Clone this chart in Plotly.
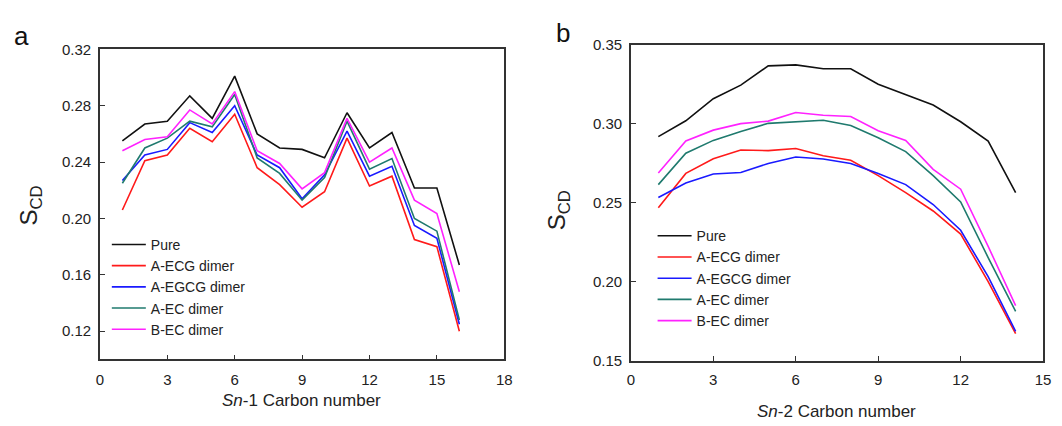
import plotly.graph_objects as go

# ---- data ----
series_names = ["Pure", "A-ECG dimer", "A-EGCG dimer", "A-EC dimer", "B-EC dimer"]
series_colors = ["#111111", "#ff1a1a", "#1a1aff", "#1f7a6e", "#ff22ff"]

sn1_carbon = list(range(1, 17))
sn1_pure = [0.255, 0.267, 0.269, 0.287, 0.271, 0.301, 0.260, 0.250, 0.249, 0.243, 0.275, 0.250, 0.261, 0.2216, 0.2216, 0.167]
sn1_aecg = [0.206, 0.241, 0.245, 0.264, 0.2545, 0.274, 0.236, 0.224, 0.208, 0.219, 0.257, 0.223, 0.230, 0.185, 0.180, 0.120]
sn1_aegcg = [0.227, 0.245, 0.249, 0.268, 0.261, 0.280, 0.245, 0.236, 0.214, 0.231, 0.262, 0.230, 0.237, 0.195, 0.186, 0.125]
sn1_aec = [0.225, 0.250, 0.257, 0.269, 0.265, 0.288, 0.243, 0.232, 0.213, 0.229, 0.269, 0.235, 0.2425, 0.200, 0.191, 0.128]
sn1_bec = [0.248, 0.256, 0.258, 0.277, 0.267, 0.290, 0.248, 0.239, 0.221, 0.2325, 0.271, 0.240, 0.250, 0.213, 0.2035, 0.148]

sn2_carbon = list(range(1, 15))
sn2_pure = [0.292, 0.302, 0.316, 0.3246, 0.3368, 0.3374, 0.335, 0.335, 0.3252, 0.3185, 0.312, 0.3014, 0.2892, 0.2565]
sn2_aecg = [0.247, 0.2687, 0.278, 0.2835, 0.2831, 0.2845, 0.2799, 0.277, 0.2673, 0.2565, 0.2449, 0.2303, 0.2002, 0.1672]
sn2_aegcg = [0.2534, 0.2626, 0.2683, 0.2693, 0.275, 0.2791, 0.2778, 0.275, 0.2687, 0.2616, 0.249, 0.2327, 0.2033, 0.1687]
sn2_aec = [0.2616, 0.2815, 0.2896, 0.2953, 0.3004, 0.3014, 0.3024, 0.299, 0.2913, 0.2825, 0.2673, 0.2506, 0.2154, 0.1813]
sn2_bec = [0.269, 0.2892, 0.2961, 0.3002, 0.3018, 0.3073, 0.3055, 0.3047, 0.2957, 0.2896, 0.2713, 0.2587, 0.2225, 0.185]

sn1_series = [sn1_pure, sn1_aecg, sn1_aegcg, sn1_aec, sn1_bec]
sn2_series = [sn2_pure, sn2_aecg, sn2_aegcg, sn2_aec, sn2_bec]

W, H = 1062, 426
FONT = "Liberation Sans, Arial, sans-serif"

fig = go.Figure()
for name, col, ys in zip(series_names, series_colors, sn1_series):
    fig.add_trace(go.Scatter(x=sn1_carbon, y=ys, mode="lines", name=name,
                             line=dict(color=col, width=1.6),
                             xaxis="x", yaxis="y", legend="legend"))
for name, col, ys in zip(series_names, series_colors, sn2_series):
    fig.add_trace(go.Scatter(x=sn2_carbon, y=ys, mode="lines", name=name,
                             line=dict(color=col, width=1.6),
                             xaxis="x2", yaxis="y2", legend="legend2"))

axis_common = dict(showline=True, linecolor="#333333", linewidth=1.5, mirror=True,
                   ticks="inside", ticklen=5, tickwidth=1.3, tickcolor="#333333",
                   showgrid=False, zeroline=False,
                   tickfont=dict(family=FONT, size=15, color="#222222"))

fig.update_layout(
    width=W, height=H,
    margin=dict(l=0, r=0, t=0, b=0),
    paper_bgcolor="white", plot_bgcolor="white",
    font=dict(family=FONT, color="#222222"),
    xaxis=dict(domain=[97 / W, 506 / W], range=[0, 18], dtick=3, tick0=0,
               anchor="y", ticklabelstandoff=6, **axis_common),
    yaxis=dict(domain=[1 - 365 / H, 1 - 42 / H], range=[0.10, 0.32], dtick=0.04, tick0=0.12,
               tickformat=".2f", anchor="x", ticklabelstandoff=4, **axis_common),
    xaxis2=dict(domain=[634 / W, 1051 / W], range=[0, 15], dtick=3, tick0=0,
                anchor="y2", ticklabelstandoff=4, **axis_common),
    yaxis2=dict(domain=[1 - 366.5 / H, 1 - 37.5 / H], range=[0.15, 0.35], dtick=0.05, tick0=0.15,
                tickformat=".2f", anchor="x2", ticklabelstandoff=4, **axis_common),
    legend=dict(x=104 / W, y=1 - 229 / H, xanchor="left", yanchor="top",
                bgcolor="rgba(0,0,0,0)", borderwidth=0, itemwidth=34,
                font=dict(family=FONT, size=14, color="#222222"), tracegroupgap=0),
    legend2=dict(x=656 / W, y=1 - 220 / H, xanchor="left", yanchor="top",
                 bgcolor="rgba(0,0,0,0)", borderwidth=0, itemwidth=34,
                 font=dict(family=FONT, size=14, color="#222222"), tracegroupgap=0),
    showlegend=True,
)

annotations = [
    dict(text="a", x=18 / W, y=1 - 28 / H, font=dict(size=26, family=FONT, color="#111111")),
    dict(text="b", x=565 / W, y=1 - 25 / H, font=dict(size=26, family=FONT, color="#111111")),
    dict(text="<i>Sn</i>-1 Carbon number", x=301 / W, y=1 - 408 / H,
         font=dict(size=17, family=FONT, color="#222222")),
    dict(text="<i>Sn</i>-2 Carbon number", x=842 / W, y=1 - 419 / H,
         font=dict(size=17, family=FONT, color="#222222")),
    dict(text="S<sub>CD</sub>", x=27 / W, y=1 - 205 / H, textangle=-90,
         font=dict(size=24, family=FONT, color="#222222")),
    dict(text="S<sub>CD</sub>", x=561 / W, y=1 - 210 / H, textangle=-90,
         font=dict(size=24, family=FONT, color="#222222")),
]
for a in annotations:
    a.update(xref="paper", yref="paper", showarrow=False, xanchor="center", yanchor="middle")
fig.update_layout(annotations=annotations)

fig.write_html("out.html")
